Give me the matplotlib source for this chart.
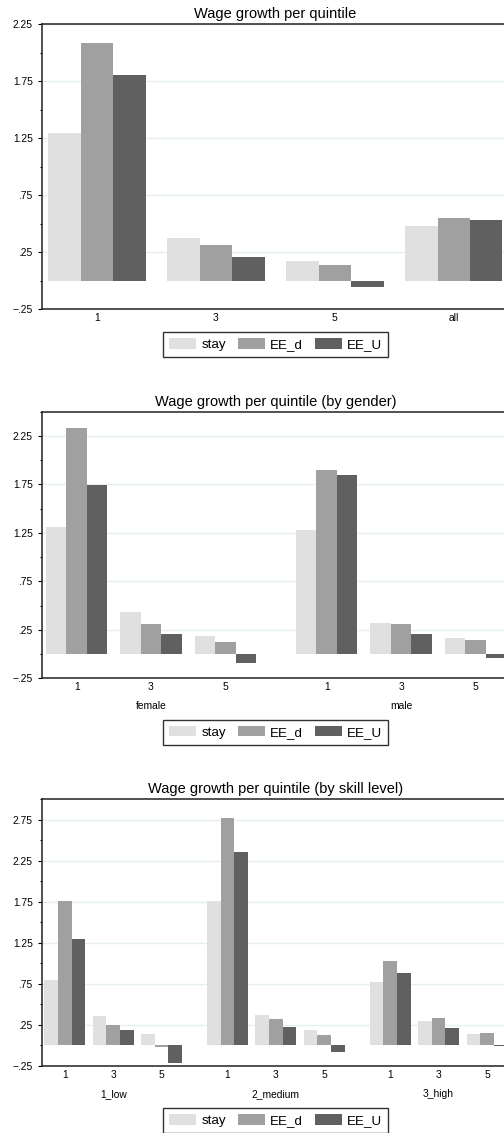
import numpy as np
import matplotlib.pyplot as plt
from matplotlib.ticker import FuncFormatter, MultipleLocator

plt.rcParams['font.family'] = ['Liberation Sans', 'DejaVu Sans']

series_names = ["stay", "EE_d", "EE_U"]
bar_colors = ["#e0e0e0", "#a0a0a0", "#606060"]

# overall, by quintile
quintiles = ["1", "3", "5", "all"]
stay_q = [1.29, 0.372, 0.171, 0.477]
eed_q = [2.083, 0.311, 0.136, 0.550]
eeu_q = [1.803, 0.209, -0.057, 0.530]

# by gender, quintiles 1 / 3 / 5
quint_sub = ["1", "3", "5"]
genders = ["female", "male"]
stay_g = [1.311, 0.434, 0.187, 1.280, 0.317, 0.166]
eed_g = [2.332, 0.311, 0.128, 1.895, 0.314, 0.146]
eeu_g = [1.744, 0.207, -0.088, 1.847, 0.211, -0.037]

# by skill level, quintiles 1 / 3 / 5
skills = ["1_low", "2_medium", "3_high"]
stay_s = [0.793, 0.355, 0.132, 1.763, 0.367, 0.184, 0.765, 0.294, 0.140]
eed_s = [1.763, 0.245, -0.026, 2.765, 0.318, 0.119, 1.028, 0.326, 0.152]
eeu_s = [1.296, 0.184, -0.221, 2.351, 0.225, -0.084, 0.874, 0.209, -0.015]

W, H = 504, 1133
fig = plt.figure(figsize=(W / 100, H / 100), dpi=100)


def px_axes(left, top, right, bottom):
    return fig.add_axes([left / W, 1 - bottom / H, (right - left) / W, (bottom - top) / H])


def short_fmt(v, pos):
    s = f"{v:.2f}"
    if s.startswith("0."):
        s = s[1:]
    elif s.startswith("-0."):
        s = "\u2212" + s[2:]
    return s


def group_starts(n_outer, n_inner, inner_pitch, outer_gap):
    # left edge of the first bar in every (outer, inner) group, in bar widths
    starts = []
    x = 0.0
    for o in range(n_outer):
        for i in range(n_inner):
            starts.append(x)
            x += inner_pitch if i < n_inner - 1 else 3 + outer_gap
    return np.array(starts)


def draw_panel(ax, starts, values, ytop, title, ticklabels, end_gap):
    for k, vals in enumerate(values):
        ax.bar(starts + k, vals, width=1, align="edge", color=bar_colors[k],
               label=series_names[k], zorder=2, linewidth=0)
    ax.set_xlim(starts[0] - end_gap, starts[-1] + 3 + end_gap)
    ax.set_ylim(-0.25, ytop)
    ax.yaxis.set_major_locator(MultipleLocator(0.5, offset=0.25))
    ax.yaxis.set_minor_locator(MultipleLocator(0.25))
    ax.yaxis.set_major_formatter(FuncFormatter(short_fmt))
    ax.yaxis.grid(True, color="#e6eff0", linewidth=1.0)
    ax.set_axisbelow(True)
    ax.set_xticks(starts + 1.5)
    ax.set_xticklabels(ticklabels)
    ax.tick_params(axis="x", length=0, pad=3, labelsize=7.4)
    ax.tick_params(axis="y", which="major", length=2.8, width=0.8, pad=4, labelsize=7.4)
    ax.tick_params(axis="y", which="minor", length=1.6, width=0.8)
    for side in ["left", "bottom", "top", "right"]:
        ax.spines[side].set_color("#222222")
        ax.spines[side].set_linewidth(1.1)
    ax.set_title(title, fontsize=10.5, pad=4.3)


def add_legend(ax, top_px):
    handles, labels = ax.get_legend_handles_labels()
    fig.legend(handles, labels, loc="upper center", ncol=3,
               bbox_to_anchor=(275.8 / W, 1 - top_px / H), bbox_transform=fig.transFigure,
               borderaxespad=0, fontsize=9.6, frameon=True, fancybox=False,
               edgecolor="#333333", framealpha=1, handlelength=2.0, handleheight=0.8,
               handletextpad=0.4, columnspacing=0.9, borderpad=0.45)


def add_group_labels(ax, xs, labels, offset_pt):
    for x, lab in zip(xs, labels):
        ax.annotate(lab, xy=(x, 0), xycoords=("data", "axes fraction"),
                    xytext=(0, -offset_pt), textcoords="offset points",
                    ha="center", va="center", fontsize=7.4)


# panel 1: overall
ax1 = px_axes(42.3, 24, 508.5, 309)
st1 = group_starts(1, 4, 3.66, 0)
draw_panel(ax1, st1, [stay_q, eed_q, eeu_q], 2.25, "Wage growth per quintile",
           quintiles, 0.185)
add_legend(ax1, 332.3)

# panel 2: by gender
ax2 = px_axes(42.3, 411.7, 509.7, 678.3)
st2 = group_starts(2, 3, 3.64, 1.96)
draw_panel(ax2, st2, [stay_g, eed_g, eeu_g], 2.5, "Wage growth per quintile (by gender)",
           quint_sub * 2, 0.18)
add_group_labels(ax2, st2[1::3] + 1.5, genders, 20)
add_legend(ax2, 720)

# panel 3: by skill level
ax3 = px_axes(42.3, 799, 509.4, 1065.7)
st3 = group_starts(3, 3, 3.56, 1.84)
draw_panel(ax3, st3, [stay_s, eed_s, eeu_s], 3.0, "Wage growth per quintile (by skill level)",
           quint_sub * 3, 0.15)
add_group_labels(ax3, st3[1::3] + 1.5, skills, 20.6)
add_legend(ax3, 1108.3)

fig.savefig("out.png", dpi=100)
